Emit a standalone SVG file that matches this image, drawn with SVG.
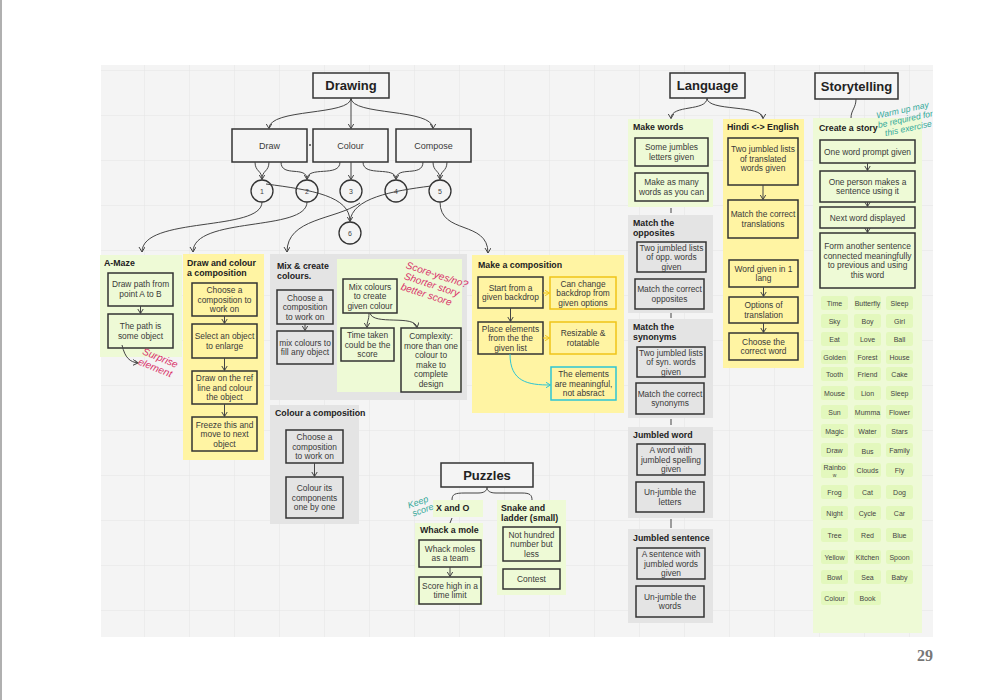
<svg xmlns="http://www.w3.org/2000/svg" width="1000" height="700" viewBox="0 0 1000 700">
<defs>
<pattern id="grid" x="99" y="70" width="45" height="45" patternUnits="userSpaceOnUse">
<path d="M45,0 L0,0 L0,45" fill="none" stroke="#e3e3e3" stroke-width="1"/>
</pattern>
<marker id="ah" markerWidth="8" markerHeight="8" refX="5" refY="3" orient="auto" markerUnits="userSpaceOnUse">
<path d="M0,0 L5,3 L0,6" fill="none" stroke="#444" stroke-width="1"/>
</marker>
<marker id="ahy" markerWidth="8" markerHeight="8" refX="5" refY="3" orient="auto" markerUnits="userSpaceOnUse">
<path d="M0,0 L5,3 L0,6" fill="none" stroke="#f0c419" stroke-width="1"/>
</marker>
<marker id="aht" markerWidth="8" markerHeight="8" refX="5" refY="3" orient="auto" markerUnits="userSpaceOnUse">
<path d="M0,0 L5,3 L0,6" fill="none" stroke="#2ec5d3" stroke-width="1"/>
</marker>
<style>
text{font-family:"Liberation Sans",Arial,sans-serif;fill:#3a3a3a}
.t{font-size:8.4px;text-anchor:middle}
.h{font-size:8.8px;font-weight:bold;fill:#222}
.big{font-size:13px;font-weight:bold;fill:#222;text-anchor:middle}
.w{font-size:7px;text-anchor:middle;fill:#444}
.gG{fill:#eefad6}
.gY{fill:#fff4a3}
.gR{fill:#e4e4e4}
.bG{fill:#eefad6;stroke:#333;stroke-width:1.5}
.bY{fill:#fff4a3;stroke:#333;stroke-width:1.5}
.bR{fill:#e4e4e4;stroke:#333;stroke-width:1.5}
.bW{fill:#f4f4f4;stroke:#333;stroke-width:1.5}
.tile{fill:#e3f8bd}
.c{fill:none;stroke:#444;stroke-width:1}
.cy{fill:none;stroke:#f0c419;stroke-width:1}
.ct{fill:none;stroke:#2ec5d3;stroke-width:1}
.red{font-size:10px;font-style:italic;fill:#d9336a;text-anchor:middle}
.teal{font-size:9px;font-style:italic;fill:#33a99a;text-anchor:middle}
</style>
</defs>
<rect x="0" y="0" width="1000" height="700" fill="#ffffff"/>
<line x1="1" y1="0" x2="1" y2="700" stroke="#b0b0b0" stroke-width="2"/>
<rect x="101" y="65" width="832" height="572" fill="#f4f4f4"/>
<rect x="101" y="65" width="832" height="572" fill="url(#grid)"/>
<text x="925" y="661" style="font-family:'Liberation Serif','DejaVu Serif',serif;font-size:16px;font-weight:bold;fill:#777;text-anchor:middle">29</text>

<!-- Drawing tree -->
<g id="drawing">
<rect x="313" y="73" width="76" height="25" class="bW"/>
<text x="351" y="90" class="big">Drawing</text>
</g>
<g id="draw"><rect x="232" y="129" width="75" height="33" class="bW"/><text x="269.5" y="148.5" class="t" style="font-size:9px">Draw</text></g>
<g id="colour"><rect x="313" y="129" width="75" height="33" class="bW"/><text x="350.5" y="148.5" class="t" style="font-size:9px">Colour</text></g>
<g id="compose"><rect x="396" y="129" width="75" height="33" class="bW"/><text x="433.5" y="148.5" class="t" style="font-size:9px">Compose</text></g>
<g id="c1"><circle cx="262" cy="191" r="11" fill="none" stroke="#333" stroke-width="1.3"/><text x="262" y="194" class="w">1</text></g>
<g id="c2"><circle cx="307" cy="191" r="11" fill="none" stroke="#333" stroke-width="1.3"/><text x="307" y="194" class="w">2</text></g>
<g id="c3"><circle cx="351" cy="191" r="11" fill="none" stroke="#333" stroke-width="1.3"/><text x="351" y="194" class="w">3</text></g>
<g id="c4"><circle cx="396" cy="191" r="11" fill="none" stroke="#333" stroke-width="1.3"/><text x="396" y="194" class="w">4</text></g>
<g id="c5"><circle cx="440" cy="191" r="11" fill="none" stroke="#333" stroke-width="1.3"/><text x="440" y="194" class="w">5</text></g>
<g id="c6"><circle cx="350" cy="233" r="11" fill="none" stroke="#333" stroke-width="1.3"/><text x="350" y="236" class="w">6</text></g>

<!-- A-Maze -->
<g id="amaze">
<rect x="100" y="255" width="82" height="102" class="gG"/>
<text x="104" y="266" class="h">A-Maze</text>
<rect x="108" y="273" width="65" height="33" class="bG"/>
<text class="t" x="140.5" y="287"><tspan x="140.5">Draw path from</tspan><tspan x="140.5" dy="10">point A to B</tspan></text>
<rect x="108" y="314" width="65" height="34" class="bG"/>
<text class="t" x="140.5" y="329"><tspan x="140.5">The path is</tspan><tspan x="140.5" dy="10">some object</tspan></text>
<text class="red" transform="translate(159,361) rotate(22)"><tspan x="0" y="0">Surprise</tspan><tspan x="-1" y="11">element</tspan></text>
</g>

<!-- Draw and colour a composition -->
<g id="drawcolour">
<rect x="183" y="254" width="81" height="206" class="gY"/>
<text class="h" x="187" y="266"><tspan x="187">Draw and colour</tspan><tspan x="187" dy="10">a composition</tspan></text>
<rect x="192" y="283" width="65" height="33" class="bY"/>
<text class="t" y="293"><tspan x="224.5">Choose a</tspan><tspan x="224.5" dy="9.5">composition to</tspan><tspan x="224.5" dy="9.5">work on</tspan></text>
<rect x="192" y="324" width="65" height="34" class="bY"/>
<text class="t" y="339"><tspan x="224.5">Select an object</tspan><tspan x="224.5" dy="9.5">to enlarge</tspan></text>
<rect x="192" y="371" width="65" height="33" class="bY"/>
<text class="t" y="381"><tspan x="224.5">Draw on the ref</tspan><tspan x="224.5" dy="9.5">line and colour</tspan><tspan x="224.5" dy="9.5">the object</tspan></text>
<rect x="192" y="417" width="65" height="34" class="bY"/>
<text class="t" y="427.5"><tspan x="224.5">Freeze this and</tspan><tspan x="224.5" dy="9.5">move to next</tspan><tspan x="224.5" dy="9.5">object</tspan></text>
</g>

<!-- Mix & create colours -->
<g id="mix">
<rect x="270" y="254" width="197" height="146" class="gR"/>
<text class="h" y="269"><tspan x="277">Mix &amp; create</tspan><tspan x="277" dy="10">colours.</tspan></text>
<rect x="277" y="290" width="56" height="34" class="bR"/>
<text class="t" y="300.5"><tspan x="305">Choose a</tspan><tspan x="305" dy="9.5">composition</tspan><tspan x="305" dy="9.5">to work on</tspan></text>
<rect x="277" y="331" width="56" height="33" class="bR"/>
<text class="t" y="345.5"><tspan x="305">mix colours to</tspan><tspan x="305" dy="9.5">fill any object</tspan></text>
<rect x="337" y="259" width="125" height="133" class="gG"/>
<rect x="343" y="279" width="54" height="34" class="bG"/>
<text class="t" y="289.5"><tspan x="370">Mix colours</tspan><tspan x="370" dy="9.5">to create</tspan><tspan x="370" dy="9.5">given colour</tspan></text>
<rect x="341" y="328" width="53" height="33" class="bG"/>
<text class="t" y="338"><tspan x="367.5">Time taken</tspan><tspan x="367.5" dy="9.5">could be the</tspan><tspan x="367.5" dy="9.5">score</tspan></text>
<rect x="401" y="328" width="60" height="64" class="bG"/>
<text class="t" y="339"><tspan x="431">Complexity:</tspan><tspan x="431" dy="9.5">more than one</tspan><tspan x="431" dy="9.5">colour to</tspan><tspan x="431" dy="9.5">make to</tspan><tspan x="431" dy="9.5">complete</tspan><tspan x="431" dy="9.5">design</tspan></text>
<text class="red" transform="translate(436,278) rotate(18)"><tspan x="0" y="0">Score-yes/no?</tspan><tspan x="-2" y="11">Shorter story</tspan><tspan x="-4" y="22">better score</tspan></text>
</g>

<!-- Colour a composition -->
<g id="colourcomp">
<rect x="270" y="405" width="89" height="119" class="gR"/>
<text x="275" y="416" class="h">Colour a composition</text>
<rect x="286" y="430" width="57" height="33" class="bR"/>
<text class="t" y="440"><tspan x="314.5">Choose a</tspan><tspan x="314.5" dy="9.5">composition</tspan><tspan x="314.5" dy="9.5">to work on</tspan></text>
<rect x="286" y="477" width="57" height="41" class="bR"/>
<text class="t" y="491"><tspan x="314.5">Colour its</tspan><tspan x="314.5" dy="9.5">components</tspan><tspan x="314.5" dy="9.5">one by one</tspan></text>
</g>

<!-- Make a composition -->
<g id="makecomp">
<rect x="472" y="255" width="152" height="158" class="gY"/>
<text x="478" y="268" class="h">Make a composition</text>
<rect x="478" y="277" width="65" height="31" class="bY"/>
<text class="t" y="290.5"><tspan x="510.5">Start from a</tspan><tspan x="510.5" dy="9.5">given backdrop</tspan></text>
<rect x="478" y="322" width="65" height="32" class="bY"/>
<text class="t" y="331.5"><tspan x="510.5">Place elements</tspan><tspan x="510.5" dy="9.5">from the the</tspan><tspan x="510.5" dy="9.5">given list</tspan></text>
<rect x="550" y="277" width="66" height="32" fill="#fff4a3" stroke="#f0c419" stroke-width="1.5"/>
<text class="t" y="286.5"><tspan x="583">Can change</tspan><tspan x="583" dy="9.5">backdrop from</tspan><tspan x="583" dy="9.5">given options</tspan></text>
<rect x="550" y="322" width="66" height="32" fill="#fff4a3" stroke="#f0c419" stroke-width="1.5"/>
<text class="t" y="336"><tspan x="583">Resizable &amp;</tspan><tspan x="583" dy="9.5">rotatable</tspan></text>
<rect x="551" y="367" width="65" height="33" fill="#fff4a3" stroke="#2ec5d3" stroke-width="1.5"/>
<text class="t" y="377"><tspan x="583.5">The elements</tspan><tspan x="583.5" dy="9.5">are meaningful,</tspan><tspan x="583.5" dy="9.5">not absract</tspan></text>
</g>

<!-- Puzzles -->
<g id="puzzles">
<rect x="441" y="463" width="92" height="24" class="bW"/>
<text x="487" y="480" class="big">Puzzles</text>
</g>
<g id="xando">
<rect x="433" y="500" width="50" height="17" class="gG"/>
<text x="436" y="511" class="h">X and O</text>
<text class="teal" transform="translate(419,505) rotate(-20)"><tspan x="0" y="0">Keep</tspan><tspan x="2" y="9">score</tspan></text>
</g>
<g id="whack">
<rect x="415" y="523" width="68" height="82" class="gG"/>
<text x="420" y="533" class="h">Whack a mole</text>
<rect x="419" y="540" width="62" height="27" class="bG"/>
<text class="t" y="551.5"><tspan x="450">Whack moles</tspan><tspan x="450" dy="9.5">as a team</tspan></text>
<rect x="419" y="577" width="62" height="27" class="bG"/>
<text class="t" y="588.5"><tspan x="450">Score high in a</tspan><tspan x="450" dy="9.5">time limit</tspan></text>
</g>
<g id="snake">
<rect x="497" y="500" width="69" height="95" class="gG"/>
<text class="h" y="511"><tspan x="501">Snake and</tspan><tspan x="501" dy="10">ladder (small)</tspan></text>
<rect x="503" y="527" width="57" height="34" class="bG"/>
<text class="t" y="537.5"><tspan x="531.5">Not hundred</tspan><tspan x="531.5" dy="9.5">number but</tspan><tspan x="531.5" dy="9.5">less</tspan></text>
<rect x="503" y="569" width="57" height="20" class="bG"/>
<text x="531.5" y="582" class="t">Contest</text>
</g>

<!-- Language -->
<g id="language">
<rect x="670" y="73" width="75" height="25" class="bW"/>
<text x="707.5" y="90" class="big">Language</text>
</g>
<g id="makewords">
<rect x="628" y="119" width="85" height="88" class="gG"/>
<text x="633" y="130" class="h">Make words</text>
<rect x="635" y="138" width="73" height="28" class="bG"/>
<text class="t" y="150"><tspan x="671.5">Some jumbles</tspan><tspan x="671.5" dy="9.5">letters given</tspan></text>
<rect x="635" y="173" width="73" height="28" class="bG"/>
<text class="t" y="185"><tspan x="671.5">Make as many</tspan><tspan x="671.5" dy="9.5">words as you can</tspan></text>
</g>
<g id="opposites">
<rect x="628" y="215" width="85" height="98" class="gR"/>
<text class="h" y="226"><tspan x="633">Match the</tspan><tspan x="633" dy="10">opposites</tspan></text>
<rect x="637" y="242" width="69" height="30" class="bR"/>
<text class="t" y="250.5"><tspan x="671.5">Two jumbled lists</tspan><tspan x="671.5" dy="9.5">of opp. words</tspan><tspan x="671.5" dy="9.5">given</tspan></text>
<rect x="635" y="279" width="69" height="30" class="bR"/>
<text class="t" y="292"><tspan x="669.5">Match the correct</tspan><tspan x="669.5" dy="9.5">opposites</tspan></text>
</g>
<g id="synonyms">
<rect x="628" y="319" width="85" height="99" class="gR"/>
<text class="h" y="330"><tspan x="633">Match the</tspan><tspan x="633" dy="10">synonyms</tspan></text>
<rect x="637" y="347" width="68" height="30" class="bR"/>
<text class="t" y="355.5"><tspan x="671">Two jumbled lists</tspan><tspan x="671" dy="9.5">of syn. words</tspan><tspan x="671" dy="9.5">given</tspan></text>
<rect x="636" y="383" width="68" height="31" class="bR"/>
<text class="t" y="396.5"><tspan x="670">Match the correct</tspan><tspan x="670" dy="9.5">synonyms</tspan></text>
</g>
<g id="jword">
<rect x="628" y="427" width="85" height="91" class="gR"/>
<text x="633" y="438" class="h">Jumbled word</text>
<rect x="637" y="444" width="68" height="31" class="bR"/>
<text class="t" y="453"><tspan x="671">A word with</tspan><tspan x="671" dy="9.5">jumbled spelling</tspan><tspan x="671" dy="9.5">given</tspan></text>
<rect x="636" y="482" width="68" height="30" class="bR"/>
<text class="t" y="495"><tspan x="670">Un-jumble the</tspan><tspan x="670" dy="9.5">letters</tspan></text>
</g>
<g id="jsentence">
<rect x="628" y="529" width="85" height="94" class="gR"/>
<text x="633" y="541" class="h">Jumbled sentence</text>
<rect x="637" y="548" width="68" height="31" class="bR"/>
<text class="t" y="557"><tspan x="671">A sentence with</tspan><tspan x="671" dy="9.5">jumbled words</tspan><tspan x="671" dy="9.5">given</tspan></text>
<rect x="636" y="586" width="68" height="31" class="bR"/>
<text class="t" y="599.5"><tspan x="670">Un-jumble the</tspan><tspan x="670" dy="9.5">words</tspan></text>
</g>
<g id="hindi">
<rect x="723" y="119" width="81" height="249" class="gY"/>
<text x="727" y="130" class="h">Hindi &lt;-&gt; English</text>
<rect x="728" y="138" width="70" height="47" class="bY"/>
<text class="t" y="152"><tspan x="763">Two jumbled lists</tspan><tspan x="763" dy="9.5">of translated</tspan><tspan x="763" dy="9.5">words given</tspan></text>
<rect x="728" y="200" width="70" height="38" class="bY"/>
<text class="t" y="217"><tspan x="763">Match the correct</tspan><tspan x="763" dy="9.5">translations</tspan></text>
<rect x="729" y="260" width="69" height="27" class="bY"/>
<text class="t" y="271.5"><tspan x="763.5">Word given in 1</tspan><tspan x="763.5" dy="9.5">lang</tspan></text>
<rect x="729" y="297" width="69" height="26" class="bY"/>
<text class="t" y="308"><tspan x="763.5">Options of</tspan><tspan x="763.5" dy="9.5">translation</tspan></text>
<rect x="729" y="333" width="69" height="27" class="bY"/>
<text class="t" y="344.5"><tspan x="763.5">Choose the</tspan><tspan x="763.5" dy="9.5">correct word</tspan></text>
</g>

<!-- Storytelling -->
<g id="storytelling">
<rect x="815" y="73" width="83" height="26" class="bW"/>
<text x="856.5" y="90.5" class="big">Storytelling</text>
</g>
<g id="createstory">
<rect x="813" y="118" width="109" height="515" class="gG"/>
<text x="819" y="131" class="h">Create a story</text>
<text class="teal" style="font-size:8.6px" transform="translate(903,113) rotate(-12)"><tspan x="0" y="0">Warm up may</tspan><tspan x="1" y="9.5">be required for</tspan><tspan x="2" y="19">this exercise</tspan></text>
<rect x="820" y="140" width="95" height="23" class="bG"/>
<text x="867.5" y="154.5" class="t">One word prompt given</text>
<rect x="820" y="171" width="95" height="31" class="bG"/>
<text class="t" y="184.5"><tspan x="867.5">One person makes a</tspan><tspan x="867.5" dy="9.5">sentence using it</tspan></text>
<rect x="820" y="207" width="95" height="21" class="bG"/>
<text x="867.5" y="220.5" class="t">Next word displayed</text>
<rect x="820" y="233" width="95" height="55" class="bG"/>
<text class="t" y="249"><tspan x="867.5">Form another sentence</tspan><tspan x="867.5" dy="9.5">connected meaningfully</tspan><tspan x="867.5" dy="9.5">to previous and using</tspan><tspan x="867.5" dy="9.5">this word</tspan></text>
</g>
<g id="words">
<g class="tile">
<rect x="821" y="296" width="27" height="14" rx="2"/><rect x="854" y="296" width="27" height="14" rx="2"/><rect x="886" y="296" width="27" height="14" rx="2"/>
<rect x="821" y="314" width="27" height="14" rx="2"/><rect x="854" y="314" width="27" height="14" rx="2"/><rect x="886" y="314" width="27" height="14" rx="2"/>
<rect x="821" y="332" width="27" height="14" rx="2"/><rect x="854" y="332" width="27" height="14" rx="2"/><rect x="886" y="332" width="27" height="14" rx="2"/>
<rect x="821" y="350" width="27" height="14" rx="2"/><rect x="854" y="350" width="27" height="14" rx="2"/><rect x="886" y="350" width="27" height="14" rx="2"/>
<rect x="821" y="367" width="27" height="14" rx="2"/><rect x="854" y="367" width="27" height="14" rx="2"/><rect x="886" y="367" width="27" height="14" rx="2"/>
<rect x="821" y="386" width="27" height="14" rx="2"/><rect x="854" y="386" width="27" height="14" rx="2"/><rect x="886" y="386" width="27" height="14" rx="2"/>
<rect x="821" y="405" width="27" height="14" rx="2"/><rect x="854" y="405" width="27" height="14" rx="2"/><rect x="886" y="405" width="27" height="14" rx="2"/>
<rect x="821" y="424" width="27" height="14" rx="2"/><rect x="854" y="424" width="27" height="14" rx="2"/><rect x="886" y="424" width="27" height="14" rx="2"/>
<rect x="821" y="443" width="27" height="14" rx="2"/><rect x="854" y="443" width="27" height="14" rx="2"/><rect x="886" y="443" width="27" height="14" rx="2"/>
<rect x="821" y="463" width="27" height="15" rx="2"/><rect x="854" y="463" width="27" height="14" rx="2"/><rect x="886" y="463" width="27" height="14" rx="2"/>
<rect x="821" y="485" width="27" height="14" rx="2"/><rect x="854" y="485" width="27" height="14" rx="2"/><rect x="886" y="485" width="27" height="14" rx="2"/>
<rect x="821" y="506" width="27" height="14" rx="2"/><rect x="854" y="506" width="27" height="14" rx="2"/><rect x="886" y="506" width="27" height="14" rx="2"/>
<rect x="821" y="528" width="27" height="14" rx="2"/><rect x="854" y="528" width="27" height="14" rx="2"/><rect x="886" y="528" width="27" height="14" rx="2"/>
<rect x="821" y="550" width="27" height="14" rx="2"/><rect x="854" y="550" width="27" height="14" rx="2"/><rect x="886" y="550" width="27" height="14" rx="2"/>
<rect x="821" y="570" width="27" height="14" rx="2"/><rect x="854" y="570" width="27" height="14" rx="2"/><rect x="886" y="570" width="27" height="14" rx="2"/>
<rect x="821" y="591" width="27" height="14" rx="2"/><rect x="854" y="591" width="27" height="14" rx="2"/>
</g>
<text class="w" x="834.5" y="305.5">Time</text><text class="w" x="867.5" y="305.5">Butterfly</text><text class="w" x="899.5" y="305.5">Sleep</text>
<text class="w" x="834.5" y="323.5">Sky</text><text class="w" x="867.5" y="323.5">Boy</text><text class="w" x="899.5" y="323.5">Girl</text>
<text class="w" x="834.5" y="341.5">Eat</text><text class="w" x="867.5" y="341.5">Love</text><text class="w" x="899.5" y="341.5">Ball</text>
<text class="w" x="834.5" y="359.5">Golden</text><text class="w" x="867.5" y="359.5">Forest</text><text class="w" x="899.5" y="359.5">House</text>
<text class="w" x="834.5" y="376.5">Tooth</text><text class="w" x="867.5" y="376.5">Friend</text><text class="w" x="899.5" y="376.5">Cake</text>
<text class="w" x="834.5" y="395.5">Mouse</text><text class="w" x="867.5" y="395.5">Lion</text><text class="w" x="899.5" y="395.5">Sleep</text>
<text class="w" x="834.5" y="414.5">Sun</text><text class="w" x="867.5" y="414.5">Mumma</text><text class="w" x="899.5" y="414.5">Flower</text>
<text class="w" x="834.5" y="433.5">Magic</text><text class="w" x="867.5" y="433.5">Water</text><text class="w" x="899.5" y="433.5">Stars</text>
<text class="w" x="834.5" y="452.5">Draw</text><text class="w" x="867.5" y="453.5">Bus</text><text class="w" x="899.5" y="452.5">Family</text>
<text class="w" x="834.5" y="470">Rainbo</text><text class="w" x="834.5" y="477" style="font-size:5px">w</text><text class="w" x="867.5" y="472.5">Clouds</text><text class="w" x="899.5" y="472.5">Fly</text>
<text class="w" x="834.5" y="494.5">Frog</text><text class="w" x="867.5" y="494.5">Cat</text><text class="w" x="899.5" y="494.5">Dog</text>
<text class="w" x="834.5" y="515.5">Night</text><text class="w" x="867.5" y="515.5">Cycle</text><text class="w" x="899.5" y="515.5">Car</text>
<text class="w" x="834.5" y="537.5">Tree</text><text class="w" x="867.5" y="537.5">Red</text><text class="w" x="899.5" y="537.5">Blue</text>
<text class="w" x="834.5" y="559.5">Yellow</text><text class="w" x="867.5" y="559.5">Kitchen</text><text class="w" x="899.5" y="559.5">Spoon</text>
<text class="w" x="834.5" y="579.5">Bowl</text><text class="w" x="867.5" y="579.5">Sea</text><text class="w" x="899.5" y="579.5">Baby</text>
<text class="w" x="834.5" y="600.5">Colour</text><text class="w" x="867.5" y="600.5">Book</text>
</g>

<!-- Connectors -->
<g id="connectors">
<path class="c" marker-end="url(#ah)" d="M351,98 C351,116 269,108 269,128.5"/>
<path class="c" marker-end="url(#ah)" d="M351,98 L351,128.5"/>
<path class="c" marker-end="url(#ah)" d="M351,98 C351,116 433,108 433,128.5"/>
<line x1="309" y1="145" x2="311" y2="145" stroke="#444" stroke-width="1.5"/>
<path class="c" d="M255,162 C255,172 262,170 262,179.5"/>
<path class="c" marker-end="url(#ah)" d="M269,162 C269,172 262,170 262,179.5"/>
<path class="c" marker-end="url(#ah)" d="M281,162 C281,178 307,165 307,179.5"/>
<path class="c" d="M340,162 C340,178 307,165 307,179.5"/>
<path class="c" marker-end="url(#ah)" d="M351,162 L351,179.5"/>
<path class="c" marker-end="url(#ah)" d="M363,162 C363,178 396,165 396,179.5"/>
<path class="c" d="M423,162 C423,178 396,165 396,179.5"/>
<path class="c" d="M433,162 C433,172 440,170 440,179.5"/>
<path class="c" marker-end="url(#ah)" d="M447,162 C447,172 440,170 440,179.5"/>
<path class="c" marker-end="url(#ah)" d="M266,184 C312,190 350,196 350,221.5"/>
<path class="c" d="M431,186 C392,191 352,198 350,221.5"/>
<path class="c" marker-end="url(#ah)" d="M360,203 C335,220 287,218 287,252"/>
<path class="c" marker-end="url(#ah)" d="M262,202 C262,232 142,216 142,252"/>
<path class="c" marker-end="url(#ah)" d="M307,202 C307,232 193,216 193,252"/>
<path class="c" marker-end="url(#ah)" d="M440,202 C440,235 488,220 488,253"/>
<path class="c" marker-end="url(#ah)" d="M140.5,306 L140.5,313.5"/>
<path class="c" marker-end="url(#ah)" d="M122,345 C125,358 130,362 138,363"/>
<path class="c" marker-end="url(#ah)" d="M224.5,316 L224.5,323.5"/>
<path class="c" marker-end="url(#ah)" d="M224.5,358 L224.5,370.5"/>
<path class="c" marker-end="url(#ah)" d="M224.5,404 L224.5,416.5"/>
<path class="c" marker-end="url(#ah)" d="M305,324 L305,330.5"/>
<path class="c" marker-end="url(#ah)" d="M369,313 C369,321 367,320 367,327.5"/>
<path class="c" marker-end="url(#ah)" d="M370,313 C373,326 415,314 417,327.5"/>
<path class="c" marker-end="url(#ah)" d="M314.5,463 L314.5,476.5"/>
<path class="c" marker-end="url(#ah)" d="M510.5,308 L510.5,321.5"/>
<path class="cy" marker-end="url(#ahy)" d="M543,293 L549.5,293"/>
<path class="cy" marker-end="url(#ahy)" d="M543,338 L549.5,338"/>
<path class="ct" marker-end="url(#aht)" d="M510,354 C510,382 528,385 550.5,385"/>
<path class="c" d="M452,500 C452,494 455,493 465,493 L478,493 C484,493 487,491 487,487 C487,491 490,493 496,493 L522,493 C530,493 532,495 532,500"/>
<path class="c" d="M452,518 L450,523"/>
<path class="c" marker-end="url(#ah)" d="M450,567 L450,576.5"/>
<path class="c" marker-end="url(#ah)" d="M707,98 C707,112 671,104 671,118.5"/>
<path class="c" marker-end="url(#ah)" d="M707,98 C707,112 763,104 763,118.5"/>
<path class="c" d="M671,208 L671,213"/>
<path class="c" d="M671,313 L671,318"/>
<path class="c" d="M671,419 L671,425"/>
<path class="c" d="M671,519 L671,528"/>
<path class="c" marker-end="url(#ah)" d="M763,185 L763,199.5"/>
<path class="c" marker-end="url(#ah)" d="M763.5,287 L763.5,296.5"/>
<path class="c" marker-end="url(#ah)" d="M763.5,323 L763.5,332.5"/>
<path class="c" d="M856,99 C856,108 851,110 851,118"/>
<path class="c" marker-end="url(#ah)" d="M867.5,163 L867.5,170.5"/>
<path class="c" marker-end="url(#ah)" d="M867.5,202 L867.5,206.5"/>
<path class="c" marker-end="url(#ah)" d="M867.5,228 L867.5,232.5"/>
</g>
</svg>
